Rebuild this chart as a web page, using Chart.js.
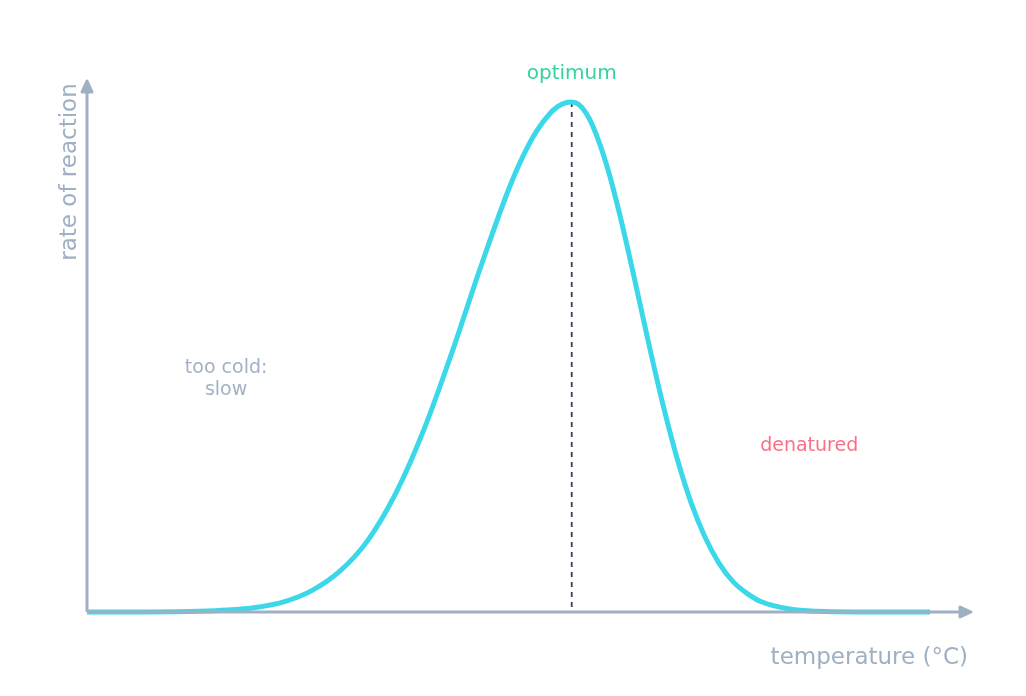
<!DOCTYPE html>
<html>
<head>
<meta charset="utf-8">
<script src="https://cdn.jsdelivr.net/npm/chart.js@4"></script>
<style>
  html, body { margin: 0; padding: 0; background: #fff; }
  canvas { display: block; }
</style>
</head>
<body>
<canvas id="rateChart" width="1026" height="696"></canvas>
<script>
// temperature (arbitrary units) and reaction rate (% of max)
let temps = [0, 4, 8, 10, 12, 14, 16, 18, 20, 22, 24, 26, 28, 30, 31, 32, 33, 33.5, 34, 34.5,
             35, 35.5, 36, 37, 38, 39, 40, 41, 42, 43, 44, 45, 46, 47, 48, 50, 52, 55, 60];
let rates = [0.002, 0.02, 0.15, 0.38, 0.9, 2.0, 4.2, 8.0, 14.1, 23.4, 35.9, 51.1, 67.5, 82.8, 89.2, 94.3, 97.9, 99.1, 99.8, 100,
             99.5, 97.9, 95.3, 87.5, 77.0, 64.9, 52.4, 40.6, 30.1, 21.4, 14.6, 9.5, 5.9, 3.6, 2.0, 0.59, 0.14, 0.013, 0];
let optimumTemp = 34.5;

let axisColor = '#9fb0c4';
let fontFamily = '"DejaVu Sans", sans-serif';

let annotations = [
    { text: 'optimum', x: optimumTemp, y: 105.6, color: '#34d399', size: 20 },
    { text: 'too cold:', x: 9.9, y: 47.9, color: '#a3b1c6', size: 19 },
    { text: 'slow', x: 9.9, y: 43.6, color: '#a3b1c6', size: 19 },
    { text: 'denatured', x: 51.4, y: 32.5, color: '#f87186', size: 19 }
];

function arrowHead(ctx, x, y, dir) {
    ctx.beginPath();
    if (dir == 'up') {
        ctx.moveTo(x, y);
        ctx.lineTo(x - 5, y + 11);
        ctx.lineTo(x + 5, y + 11);
    }
    else {
        ctx.moveTo(x, y);
        ctx.lineTo(x - 11, y - 5);
        ctx.lineTo(x - 11, y + 5);
    }
    ctx.closePath();
    ctx.fill();
    ctx.stroke();
}

let decorPlugin = {
    id: 'decor',
    beforeDatasetsDraw(chart) {
        let ctx = chart.ctx;
        let xs = chart.scales.x, ys = chart.scales.y;
        let px = xs.getPixelForValue(optimumTemp);
        ctx.save();
        ctx.strokeStyle = '#334155';
        ctx.lineWidth = 1.8;
        ctx.setLineDash([5, 5]);
        ctx.beginPath();
        ctx.moveTo(px, ys.getPixelForValue(100));
        ctx.lineTo(px, ys.getPixelForValue(0));
        ctx.stroke();
        ctx.restore();
    },
    afterDatasetsDraw(chart) {
        let ctx = chart.ctx;
        let area = chart.chartArea;
        let xs = chart.scales.x, ys = chart.scales.y;
        ctx.save();
        // axes with arrows
        ctx.strokeStyle = axisColor;
        ctx.fillStyle = axisColor;
        ctx.lineWidth = 3;
        ctx.lineJoin = 'round';
        ctx.beginPath();
        ctx.moveTo(area.left, area.bottom);
        ctx.lineTo(area.left, 88);
        ctx.stroke();
        arrowHead(ctx, area.left, 81, 'up');
        ctx.beginPath();
        ctx.moveTo(area.left, area.bottom);
        ctx.lineTo(962, area.bottom);
        ctx.stroke();
        arrowHead(ctx, 971, area.bottom, 'right');

        // axis titles
        ctx.font = '23px ' + fontFamily;
        ctx.textAlign = 'right';
        ctx.textBaseline = 'middle';
        ctx.fillText('temperature (°C)', 968, 658);
        ctx.save();
        ctx.translate(70, 172);
        ctx.rotate(-Math.PI / 2);
        ctx.textAlign = 'center';
        ctx.fillText('rate of reaction', 0, 0);
        ctx.restore();

        // annotations
        ctx.textAlign = 'center';
        annotations.forEach(a => {
            ctx.font = a.size + 'px ' + fontFamily;
            ctx.fillStyle = a.color;
            ctx.fillText(a.text, xs.getPixelForValue(a.x), ys.getPixelForValue(a.y));
        });
        ctx.restore();
    }
};

let canvas = document.getElementById('rateChart').getContext('2d');
let rateChart = new Chart(canvas, {
    type: 'line',
    data: {
        datasets: [{
            data: temps.map((t, i) => ({ x: t, y: rates[i] })),
            borderColor: '#3bd8ea',
            borderWidth: 5,
            pointRadius: 0,
            fill: false,
            clip: false,
            cubicInterpolationMode: 'monotone'
        }]
    },
    options: {
        responsive: false,
        animation: false,
        layout: { padding: { left: 87, right: 96, top: 102, bottom: 84 } },
        plugins: { legend: { display: false }, tooltip: { enabled: false } },
        scales: {
            x: { type: 'linear', min: 0, max: 60, display: false },
            y: { min: 0, max: 100, display: false }
        }
    },
    plugins: [decorPlugin]
});
</script>
</body>
</html>
